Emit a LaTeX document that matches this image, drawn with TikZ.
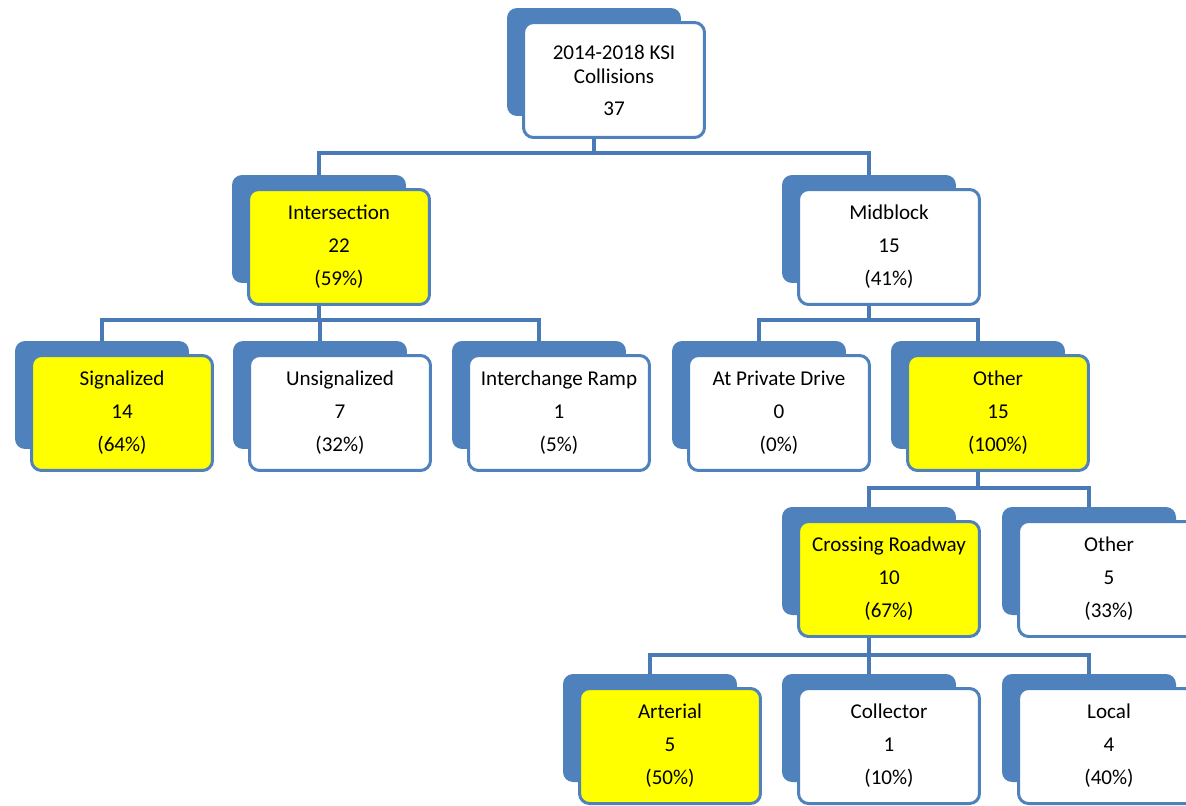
\documentclass[tikz,border=0pt]{standalone}
\usepackage{fontspec}
\setmainfont{Carlito}
\usetikzlibrary{backgrounds}
\definecolor{ksiblue}{HTML}{4F81BD}
\definecolor{ksiline}{HTML}{4A7AB5}
\definecolor{ksiyellow}{HTML}{FFFF00}
\begin{document}
\begin{tikzpicture}[x=0.02cm,y=-0.02cm,%
% common options for the front boxes:
box/.style = {draw=ksiblue, line width=0.06cm, fill=white, rounded corners=0.2cm,
            minimum width=3.62cm, minimum height=2.3cm, align=center, inner sep=0,
            font=\fontsize{12}{18.8}\selectfont},
hilite/.style = {box, fill=ksiyellow},
% the blue card behind each box:
back/.style = {fill=ksiblue, rounded corners=0.2cm, minimum width=3.48cm,
            minimum height=2.16cm, inner sep=0},
link/.style = {draw=ksiline, line width=0.08cm}]
\useasboundingbox (0,0) rectangle (1186,805);
\node[back] (top-b) at (594,62) {};
\node[box,font=\fontsize{12}{13.6}\selectfont] (top) at (614,80) {2014-2018 KSI\\Collisions\\[0.16cm]37};
\node[back] (inter-b) at (319,229) {};
\node[hilite] (inter) at (339,247) {Intersection\\22\\(59\%)};
\node[back] (mid-b) at (869,229) {};
\node[box] (mid) at (889,247) {Midblock\\15\\(41\%)};
\node[back] (sig-b) at (102,395) {};
\node[hilite] (sig) at (122,413) {Signalized\\14\\(64\%)};
\node[back] (unsig-b) at (320,395) {};
\node[box] (unsig) at (340,413) {Unsignalized\\7\\(32\%)};
\node[back] (ramp-b) at (539,395) {};
\node[box] (ramp) at (559,413) {Interchange Ramp\\1\\(5\%)};
\node[back] (priv-b) at (759,395) {};
\node[box] (priv) at (779,413) {At Private Drive\\0\\(0\%)};
\node[back] (oth-b) at (978,395) {};
\node[hilite] (oth) at (998,413) {Other\\15\\(100\%)};
\node[back] (cross-b) at (869,561) {};
\node[hilite] (cross) at (889,579) {Crossing Roadway\\10\\(67\%)};
\node[back] (othb-b) at (1089,561) {};
\node[box] (othb) at (1109,579) {Other\\5\\(33\%)};
\node[back] (art-b) at (650,728) {};
\node[hilite] (art) at (670,746) {Arterial\\5\\(50\%)};
\node[back] (coll-b) at (869,728) {};
\node[box] (coll) at (889,746) {Collector\\1\\(10\%)};
\node[back] (loc-b) at (1089,728) {};
\node[box] (loc) at (1109,746) {Local\\4\\(40\%)};
% junctions of the tree
\coordinate (j0) at (594,153);
\coordinate (j1) at (319,320);
\coordinate (j2) at (869,320);
\coordinate (j3) at (978,488);
\coordinate (j4) at (869,655);
\begin{pgfonlayer}{background}
\draw[link] (top-b.center) -- (j0) -| (inter-b.north);
\draw[link] (j0) -| (mid-b.north);
\draw[link] (inter-b.center) -- (j1) -| (sig-b.north);
\draw[link] (j1) -| (unsig-b.north);
\draw[link] (j1) -| (ramp-b.north);
\draw[link] (mid-b.center) -- (j2) -| (priv-b.north);
\draw[link] (j2) -| (oth-b.north);
\draw[link] (oth-b.center) -- (j3) -| (cross-b.north);
\draw[link] (j3) -| (othb-b.north);
\draw[link] (cross-b.center) -- (j4) -| (art-b.north);
\draw[link] (j4) -| (coll-b.north);
\draw[link] (j4) -| (loc-b.north);
\end{pgfonlayer}
\end{tikzpicture}
\end{document}
